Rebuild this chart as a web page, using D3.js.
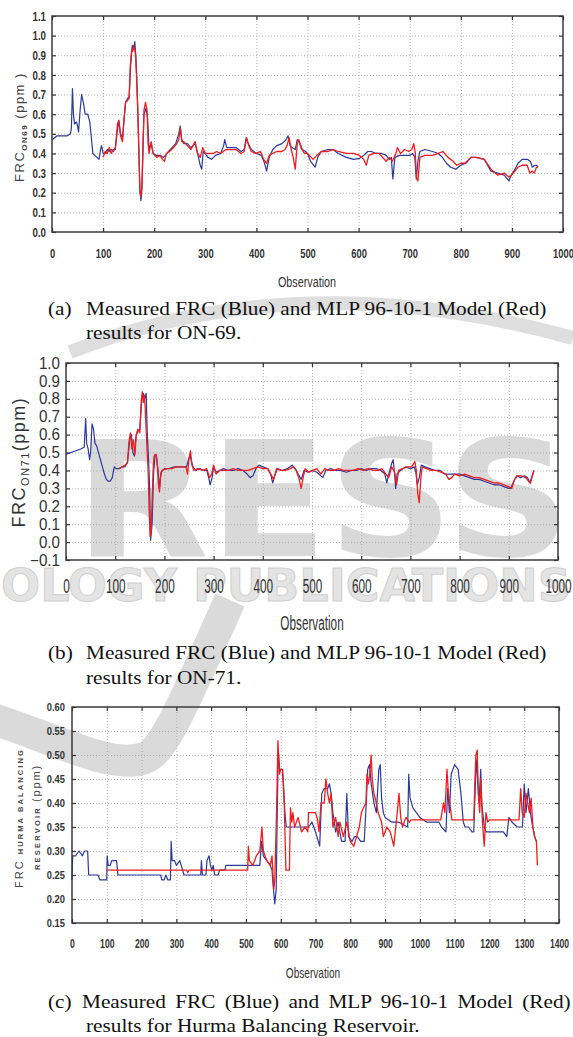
<!DOCTYPE html>
<html>
<head>
<meta charset="utf-8">
<script src="https://cdn.jsdelivr.net/npm/d3@7"></script>
<style>
body { margin: 0; background: #fff; }
svg { display: block; }
</style>
</head>
<body>
<div id="fig"></div>
<script>
// ---- data: [observation, FRC ppm] ----
var on69Measured = [[0,0.47],[5,0.48],[10,0.49],[20,0.49],[30,0.49],[36,0.50],[38,0.53],[40,0.73],[42,0.60],[44,0.55],[48,0.56],[50,0.54],[52,0.51],[55,0.62],[58,0.70],[62,0.65],[65,0.60],[70,0.60],[74,0.56],[77,0.48],[80,0.40],[84,0.39],[88,0.38],[92,0.37],[95,0.42],[97,0.44],[100,0.40],[104,0.40],[108,0.42],[112,0.41],[116,0.42],[120,0.41],[124,0.43],[128,0.52],[131,0.56],[134,0.50],[138,0.48],[141,0.57],[144,0.66],[148,0.68],[151,0.69],[154,0.85],[157,0.95],[160,0.93],[162,0.97],[164,0.90],[166,0.78],[168,0.62],[170,0.42],[172,0.22],[174,0.16],[176,0.22],[178,0.45],[180,0.60],[184,0.63],[187,0.58],[190,0.42],[194,0.45],[198,0.40],[205,0.39],[212,0.39],[218,0.38],[222,0.39],[228,0.41],[235,0.43],[242,0.45],[248,0.50],[251,0.54],[254,0.47],[258,0.45],[265,0.45],[272,0.43],[280,0.45],[285,0.40],[290,0.34],[293,0.32],[296,0.41],[300,0.40],[305,0.38],[312,0.37],[320,0.39],[330,0.40],[336,0.44],[338,0.47],[342,0.43],[350,0.43],[360,0.43],[370,0.41],[376,0.42],[380,0.48],[384,0.45],[390,0.42],[400,0.40],[410,0.39],[416,0.35],[420,0.31],[425,0.38],[432,0.42],[440,0.44],[450,0.45],[458,0.47],[462,0.49],[466,0.44],[470,0.43],[476,0.42],[480,0.47],[484,0.46],[490,0.42],[496,0.41],[500,0.40],[506,0.36],[515,0.33],[520,0.38],[527,0.41],[540,0.42],[550,0.42],[560,0.40],[576,0.38],[590,0.37],[602,0.375],[610,0.39],[618,0.41],[625,0.41],[634,0.40],[645,0.40],[654,0.39],[660,0.37],[664,0.38],[667,0.27],[671,0.38],[680,0.39],[690,0.39],[700,0.39],[706,0.40],[710,0.38],[713,0.27],[716,0.36],[720,0.41],[730,0.42],[745,0.41],[756,0.40],[764,0.38],[772,0.35],[780,0.33],[790,0.32],[800,0.34],[810,0.35],[820,0.38],[830,0.38],[846,0.37],[859,0.31],[872,0.30],[885,0.29],[894,0.26],[899,0.29],[906,0.32],[912,0.35],[920,0.37],[930,0.37],[936,0.36],[940,0.33],[944,0.34],[948,0.34],[951,0.33]];
var on69Model = [[100,0.38],[104,0.41],[108,0.40],[112,0.43],[116,0.40],[120,0.42],[124,0.42],[128,0.55],[131,0.57],[134,0.49],[138,0.46],[141,0.58],[144,0.66],[148,0.67],[151,0.68],[153,0.84],[156,0.93],[158,0.92],[160,0.95],[162,0.93],[164,0.88],[166,0.75],[168,0.60],[170,0.40],[172,0.20],[174,0.18],[176,0.23],[178,0.40],[180,0.62],[183,0.66],[186,0.62],[188,0.45],[190,0.40],[194,0.46],[198,0.40],[205,0.38],[212,0.39],[216,0.37],[220,0.36],[224,0.40],[230,0.41],[238,0.43],[244,0.45],[248,0.47],[251,0.53],[254,0.46],[258,0.46],[265,0.44],[272,0.42],[280,0.46],[285,0.40],[290,0.38],[295,0.43],[300,0.40],[308,0.40],[316,0.40],[322,0.41],[330,0.40],[340,0.42],[350,0.42],[360,0.42],[370,0.40],[376,0.41],[381,0.48],[385,0.44],[390,0.41],[398,0.40],[408,0.41],[414,0.37],[420,0.35],[425,0.39],[432,0.40],[440,0.41],[450,0.41],[456,0.42],[460,0.44],[464,0.48],[468,0.42],[472,0.38],[476,0.32],[480,0.45],[483,0.47],[487,0.43],[494,0.40],[500,0.40],[511,0.37],[518,0.39],[527,0.41],[540,0.41],[550,0.42],[560,0.41],[576,0.40],[590,0.40],[602,0.39],[610,0.37],[615,0.34],[620,0.39],[630,0.40],[640,0.40],[654,0.36],[660,0.38],[666,0.36],[673,0.40],[676,0.43],[682,0.40],[690,0.42],[698,0.41],[704,0.42],[708,0.45],[711,0.40],[713,0.28],[716,0.26],[720,0.38],[730,0.39],[745,0.39],[756,0.40],[765,0.41],[775,0.38],[785,0.36],[792,0.34],[800,0.35],[808,0.35],[820,0.38],[830,0.38],[846,0.37],[859,0.32],[872,0.29],[885,0.30],[894,0.28],[899,0.29],[906,0.31],[912,0.33],[920,0.34],[930,0.34],[935,0.30],[940,0.31],[944,0.30],[948,0.33],[951,0.33]];

var on71Measured = [[0,0.49],[10,0.50],[20,0.51],[30,0.52],[37,0.53],[40,0.69],[42,0.55],[45,0.52],[48,0.46],[50,0.50],[53,0.66],[56,0.63],[59,0.55],[62,0.54],[66,0.50],[70,0.46],[74,0.42],[78,0.38],[82,0.35],[86,0.34],[90,0.34],[94,0.36],[98,0.42],[102,0.41],[108,0.41],[114,0.42],[120,0.42],[125,0.45],[130,0.58],[133,0.60],[136,0.50],[139,0.48],[142,0.59],[146,0.62],[150,0.63],[154,0.80],[157,0.83],[160,0.80],[163,0.83],[165,0.62],[168,0.45],[170,0.30],[172,0.01],[175,0.10],[178,0.38],[181,0.49],[184,0.48],[187,0.40],[190,0.30],[193,0.39],[200,0.41],[210,0.41],[220,0.42],[230,0.42],[240,0.42],[245,0.42],[248,0.45],[252,0.49],[255,0.45],[258,0.42],[264,0.40],[272,0.41],[280,0.40],[286,0.40],[290,0.36],[293,0.32],[297,0.36],[300,0.42],[305,0.39],[312,0.40],[320,0.41],[330,0.40],[340,0.40],[350,0.41],[360,0.40],[368,0.38],[374,0.36],[380,0.37],[386,0.41],[392,0.43],[400,0.42],[410,0.41],[416,0.38],[420,0.33],[424,0.37],[430,0.41],[440,0.40],[450,0.41],[460,0.43],[466,0.41],[472,0.38],[478,0.35],[484,0.40],[492,0.39],[500,0.40],[510,0.39],[518,0.37],[522,0.36],[528,0.40],[538,0.41],[548,0.40],[558,0.40],[570,0.39],[580,0.40],[590,0.40],[600,0.41],[610,0.40],[620,0.41],[630,0.41],[640,0.40],[648,0.38],[652,0.33],[656,0.38],[662,0.44],[665,0.46],[668,0.38],[670,0.30],[673,0.38],[680,0.40],[690,0.42],[700,0.41],[708,0.42],[711,0.39],[714,0.32],[718,0.36],[722,0.43],[730,0.42],[740,0.41],[750,0.40],[760,0.40],[770,0.38],[780,0.38],[790,0.38],[800,0.38],[810,0.37],[820,0.36],[830,0.35],[840,0.35],[850,0.34],[860,0.33],[870,0.32],[880,0.32],[890,0.31],[900,0.30],[904,0.30],[910,0.34],[916,0.37],[924,0.36],[932,0.37],[938,0.36],[943,0.33],[946,0.36],[951,0.40]];
var on71Model = [[108,0.41],[114,0.42],[120,0.43],[125,0.44],[128,0.56],[131,0.61],[134,0.52],[137,0.57],[140,0.49],[143,0.60],[146,0.63],[150,0.61],[153,0.79],[155,0.84],[157,0.78],[159,0.82],[161,0.75],[163,0.62],[165,0.50],[167,0.40],[169,0.18],[171,0.03],[173,0.05],[175,0.22],[177,0.40],[179,0.48],[183,0.49],[186,0.42],[188,0.32],[190,0.28],[192,0.36],[195,0.40],[205,0.41],[215,0.41],[225,0.42],[235,0.42],[244,0.42],[247,0.38],[250,0.46],[253,0.51],[256,0.43],[260,0.40],[268,0.41],[278,0.40],[286,0.41],[292,0.36],[296,0.38],[300,0.43],[305,0.38],[312,0.40],[320,0.40],[330,0.40],[340,0.41],[350,0.40],[360,0.40],[370,0.40],[380,0.41],[390,0.42],[400,0.41],[410,0.41],[418,0.37],[422,0.35],[428,0.41],[436,0.40],[446,0.40],[456,0.41],[462,0.42],[468,0.40],[474,0.35],[478,0.30],[482,0.36],[486,0.41],[494,0.39],[502,0.40],[510,0.41],[518,0.38],[526,0.41],[534,0.40],[544,0.40],[554,0.41],[564,0.40],[574,0.40],[584,0.40],[594,0.41],[604,0.40],[614,0.41],[624,0.40],[634,0.40],[642,0.41],[650,0.38],[656,0.36],[662,0.42],[668,0.39],[672,0.32],[676,0.40],[684,0.41],[694,0.42],[702,0.42],[707,0.44],[709,0.45],[712,0.40],[715,0.27],[718,0.22],[721,0.35],[724,0.42],[732,0.41],[742,0.40],[752,0.40],[762,0.39],[772,0.38],[778,0.35],[784,0.36],[790,0.38],[800,0.37],[810,0.38],[820,0.37],[830,0.36],[840,0.36],[850,0.35],[860,0.34],[870,0.33],[880,0.33],[890,0.32],[900,0.31],[906,0.30],[912,0.35],[918,0.37],[926,0.37],[934,0.36],[940,0.34],[944,0.33],[948,0.37],[951,0.40]];

var hurmaMeasured = [[0,0.24],[2,0.29],[10,0.29],[20,0.30],[30,0.29],[36,0.30],[45,0.30],[48,0.25],[60,0.25],[75,0.25],[80,0.24],[100,0.24],[101,0.29],[104,0.27],[110,0.27],[114,0.28],[128,0.28],[132,0.25],[180,0.25],[255,0.25],[258,0.24],[265,0.24],[270,0.25],[275,0.24],[283,0.24],[285,0.32],[288,0.28],[295,0.28],[300,0.27],[310,0.28],[318,0.26],[322,0.25],[370,0.25],[372,0.28],[375,0.25],[385,0.25],[388,0.28],[394,0.29],[398,0.27],[402,0.26],[406,0.27],[410,0.25],[420,0.25],[424,0.26],[440,0.26],[442,0.27],[500,0.27],[520,0.27],[540,0.27],[545,0.32],[550,0.29],[560,0.28],[570,0.27],[575,0.26],[578,0.23],[583,0.19],[587,0.22],[590,0.38],[593,0.51],[597,0.47],[605,0.47],[608,0.44],[612,0.38],[616,0.35],[640,0.35],[660,0.35],[680,0.35],[690,0.36],[700,0.34],[712,0.31],[718,0.42],[725,0.43],[735,0.43],[740,0.44],[745,0.42],[750,0.38],[758,0.34],[765,0.36],[775,0.32],[785,0.32],[790,0.42],[795,0.33],[805,0.32],[812,0.33],[820,0.33],[830,0.32],[840,0.32],[846,0.40],[850,0.47],[855,0.48],[860,0.44],[868,0.40],[875,0.38],[882,0.47],[886,0.48],[890,0.41],[895,0.38],[900,0.37],[920,0.36],[940,0.36],[965,0.35],[968,0.46],[972,0.41],[980,0.39],[990,0.38],[1000,0.37],[1020,0.36],[1040,0.36],[1055,0.36],[1062,0.35],[1075,0.34],[1080,0.43],[1085,0.38],[1090,0.46],[1095,0.47],[1100,0.48],[1110,0.47],[1118,0.42],[1125,0.36],[1130,0.35],[1140,0.35],[1150,0.34],[1155,0.34],[1162,0.49],[1165,0.46],[1170,0.40],[1175,0.47],[1178,0.40],[1185,0.35],[1190,0.34],[1220,0.34],[1240,0.34],[1250,0.33],[1256,0.37],[1265,0.36],[1280,0.35],[1295,0.35],[1300,0.44],[1305,0.38],[1312,0.43],[1318,0.38],[1322,0.36],[1330,0.33],[1335,0.32]];
var hurmaModel = [[100,0.26],[330,0.26],[333,0.255],[336,0.26],[505,0.26],[507,0.31],[510,0.28],[520,0.27],[530,0.29],[540,0.30],[546,0.35],[550,0.30],[560,0.28],[570,0.27],[575,0.29],[580,0.22],[583,0.24],[588,0.38],[592,0.53],[596,0.46],[600,0.47],[605,0.47],[610,0.40],[615,0.26],[625,0.26],[628,0.39],[632,0.36],[635,0.38],[640,0.35],[650,0.37],[660,0.34],[670,0.35],[678,0.34],[680,0.38],[700,0.38],[706,0.365],[710,0.34],[716,0.40],[725,0.40],[730,0.45],[735,0.42],[740,0.40],[745,0.42],[750,0.35],[758,0.37],[765,0.33],[770,0.36],[780,0.33],[790,0.36],[800,0.32],[810,0.31],[818,0.33],[826,0.35],[832,0.38],[838,0.39],[845,0.40],[848,0.46],[852,0.44],[856,0.46],[860,0.50],[863,0.45],[868,0.42],[875,0.40],[880,0.38],[890,0.36],[895,0.33],[905,0.35],[915,0.34],[925,0.31],[935,0.38],[940,0.42],[945,0.37],[950,0.35],[960,0.37],[970,0.36],[975,0.365],[1060,0.365],[1068,0.40],[1072,0.38],[1078,0.47],[1082,0.42],[1086,0.40],[1092,0.365],[1155,0.365],[1158,0.44],[1161,0.50],[1165,0.51],[1168,0.42],[1172,0.38],[1175,0.45],[1180,0.36],[1185,0.31],[1190,0.38],[1195,0.36],[1200,0.365],[1285,0.365],[1290,0.43],[1294,0.38],[1300,0.37],[1305,0.42],[1310,0.40],[1315,0.38],[1320,0.41],[1325,0.35],[1330,0.33],[1335,0.32],[1338,0.27]];

// ---- tick values ----
var obsTicks1000 = d3.range(0, 1001, 100);
var obsTicks1400 = d3.range(0, 1401, 100);
var ticksOn69 = d3.range(0, 12).map(function (i) { return i / 10; });
var ticksOn71 = d3.range(-1, 11).map(function (i) { return i / 10; });
var ticksHurma = d3.range(3, 13).map(function (i) { return i * 0.05; });

var blue = "#2a3a9c", red = "#f21c1c";

var svg = d3.select("#fig").append("svg")
    .attr("width", 573)
    .attr("height", 1037);

// publisher watermark, faint, behind the plots
var wm = svg.append("g").attr("stroke", "none");
wm.append("path")
    .attr("d", "M 70 352 Q 300 262 573 338")
    .attr("fill", "none").attr("stroke", "#dedede").attr("stroke-width", 14);
wm.append("text")
    .attr("x", 75).attr("y", 556)
    .attr("textLength", 496).attr("lengthAdjust", "spacingAndGlyphs")
    .attr("fill", "#d9d9d9")
    .style("font", "bold 160px 'DejaVu Sans'")
    .text("RESS");
wm.append("text")
    .attr("x", 1).attr("y", 601)
    .attr("textLength", 570).attr("lengthAdjust", "spacingAndGlyphs")
    .attr("fill", "#e4e4e4").attr("stroke", "#d0d0d0").attr("stroke-width", 1)
    .style("font", "bold 44px 'DejaVu Sans'")
    .text("OLOGY PUBLICATIONS");
wm.append("path")
    .attr("d", "M -10 718 C 60 740 110 770 145 758 C 165 750 185 700 230 600")
    .attr("fill", "none").attr("stroke", "#dadada").attr("stroke-width", 32)
    .attr("stroke-linecap", "butt");

function drawPanel(p) {
    var x = d3.scaleLinear().domain(p.xDomain).range([p.left, p.right]);
    var y = d3.scaleLinear().domain(p.yDomain).range([p.bottom, p.top]);
    var w = p.right - p.left, h = p.bottom - p.top;
    var g = svg.append("g");

    // dotted grid
    g.append("g")
        .attr("transform", "translate(0," + p.bottom + ")")
        .call(d3.axisBottom(x).tickValues(p.xTicks.slice(1, -1)).tickSize(-h).tickFormat(""))
        .call(function (s) { s.select(".domain").remove(); })
        .selectAll("line").attr("stroke", "#b0b0b0").attr("stroke-dasharray", "1,2");
    g.append("g")
        .attr("transform", "translate(" + p.left + ",0)")
        .call(d3.axisLeft(y).tickValues(p.yTicks.slice(1, -1)).tickSize(-w).tickFormat(""))
        .call(function (s) { s.select(".domain").remove(); })
        .selectAll("line").attr("stroke", "#b0b0b0").attr("stroke-dasharray", "1,2");

    // inward tick marks on all four sides
    var inward = [
        [d3.axisBottom(x).tickValues(p.xTicks), "translate(0," + p.bottom + ")"],
        [d3.axisTop(x).tickValues(p.xTicks), "translate(0," + p.top + ")"],
        [d3.axisLeft(y).tickValues(p.yTicks), "translate(" + p.left + ",0)"],
        [d3.axisRight(y).tickValues(p.yTicks), "translate(" + p.right + ",0)"]
    ];
    inward.forEach(function (a) {
        g.append("g").attr("transform", a[1])
            .call(a[0].tickSize(-4).tickFormat(""))
            .call(function (s) { s.select(".domain").remove(); })
            .selectAll("line").attr("stroke", "#333").attr("stroke-width", 1.2);
    });

    var line = d3.line()
        .x(function (d) { return x(d[0]); })
        .y(function (d) { return y(d[1]); });

    g.append("path").datum(p.measured)
        .attr("d", line).attr("fill", "none")
        .attr("stroke", blue).attr("stroke-width", 1.2).attr("stroke-linejoin", "round");
    g.append("path").datum(p.model)
        .attr("d", line).attr("fill", "none")
        .attr("stroke", red).attr("stroke-width", 1.3).attr("stroke-linejoin", "round");

    g.append("rect")
        .attr("x", p.left).attr("y", p.top).attr("width", w).attr("height", h)
        .attr("fill", "none").attr("stroke", "#3a3a3a").attr("stroke-width", 1.5);

    // tick labels
    var yl = g.append("g")
        .attr("transform", "translate(" + p.left + ",0)")
        .call(d3.axisLeft(y).tickValues(p.yTicks).tickSize(0).tickFormat(d3.format(p.yFormat)))
        .call(function (s) { s.select(".domain").remove(); });
    yl.selectAll("text")
        .attr("x", -p.yPad / p.ySx)
        .attr("transform", "scale(" + p.ySx + ",1)")
        .style("font", p.yFont).attr("fill", "#333");

    var xl = g.append("g")
        .attr("transform", "translate(0," + p.bottom + ")")
        .call(d3.axisBottom(x).tickValues(p.xTicks).tickSize(0).tickFormat(d3.format("d")))
        .call(function (s) { s.select(".domain").remove(); });
    xl.selectAll("text")
        .attr("y", p.xPad).attr("dy", 0)
        .attr("transform", "scale(" + p.xSx + ",1)")
        .style("font", p.xFont).attr("fill", "#333");

    g.append("text")
        .attr("transform", "translate(" + p.titleX + "," + p.titleY + ") scale(" + p.xSx + ",1)")
        .attr("text-anchor", "middle")
        .style("font", p.titleFont).attr("fill", "#333")
        .text("Observation");
}

drawPanel({
    left: 52, right: 563, top: 16, bottom: 232,
    xDomain: [0, 1000], yDomain: [0, 1.1],
    xTicks: obsTicks1000, yTicks: ticksOn69, yFormat: ".1f",
    measured: on69Measured, model: on69Model,
    yFont: "bold 13px 'Liberation Sans'", ySx: 0.75, yPad: 6,
    xFont: "bold 13px 'Liberation Sans'", xSx: 0.72, xPad: 26,
    titleFont: "15px 'Liberation Sans'", titleX: 307, titleY: 287
});
drawPanel({
    left: 66, right: 558, top: 363, bottom: 560,
    xDomain: [0, 1000], yDomain: [-0.1, 1.0],
    xTicks: obsTicks1000, yTicks: ticksOn71, yFormat: ".1f",
    measured: on71Measured, model: on71Model,
    yFont: "16px 'Liberation Sans'", ySx: 0.95, yPad: 6,
    xFont: "21px 'Liberation Sans'", xSx: 0.56, xPad: 33,
    titleFont: "21px 'Liberation Sans'", titleX: 312, titleY: 630
});
drawPanel({
    left: 72, right: 559, top: 707, bottom: 923,
    xDomain: [0, 1400], yDomain: [0.15, 0.60],
    xTicks: obsTicks1400, yTicks: ticksHurma, yFormat: ".2f",
    measured: hurmaMeasured, model: hurmaModel,
    yFont: "bold 11px 'Liberation Sans'", ySx: 0.85, yPad: 7,
    xFont: "bold 12px 'Liberation Sans'", xSx: 0.72, xPad: 25,
    titleFont: "14px 'Liberation Sans'", titleX: 313, titleY: 978
});

// rotated y-axis titles
var ta = svg.append("text")
    .attr("transform", "translate(24,127) rotate(-90)")
    .attr("text-anchor", "middle").attr("fill", "#444")
    .style("font", "13px 'Liberation Sans'").style("letter-spacing", "1.5px");
ta.append("tspan").text("FRC");
ta.append("tspan").attr("dy", 3).style("font", "bold 8px 'Liberation Sans'").text("ON69");
ta.append("tspan").attr("dy", -3).text(" (ppm )");

var tb = svg.append("text")
    .attr("transform", "translate(25,462) rotate(-90)")
    .attr("text-anchor", "middle").attr("fill", "#333")
    .style("font", "18px 'Liberation Sans'").style("letter-spacing", "1.5px");
tb.append("tspan").text("FRC");
tb.append("tspan").attr("dy", 4).style("font", "11px 'Liberation Sans'").text("ON71");
tb.append("tspan").attr("dy", -4).text("(ppm)");

var tc1 = svg.append("text")
    .attr("transform", "translate(23,888) rotate(-90)")
    .attr("fill", "#444")
    .style("font", "11px 'Liberation Sans'").style("letter-spacing", "2px");
tc1.append("tspan").text("FRC  ");
tc1.append("tspan").style("font", "bold 7.5px 'Liberation Sans'").style("letter-spacing", "2.1px").text("HURMA BALANCING");
var tc2 = svg.append("text")
    .attr("transform", "translate(40,870) rotate(-90)")
    .attr("fill", "#444")
    .style("font", "bold 7.5px 'Liberation Sans'").style("letter-spacing", "2.2px");
tc2.append("tspan").text("RESERVOIR ");
tc2.append("tspan").style("font", "11px 'Liberation Sans'").style("letter-spacing", "1.8px").text("(ppm)");

// captions
var captions = [
    { tag: "(a)", y1: 315, y2: 339, line2: "results for ON-69.", ws: 0 },
    { tag: "(b)", y1: 659, y2: 684, line2: "results for ON-71.", ws: 0 },
    { tag: "(c)", y1: 1008, y2: 1032, line2: "results for Hurma Balancing Reservoir.", ws: 3.6 }
];
captions.forEach(function (c) {
    var t = svg.append("g").style("font", "19px 'Liberation Serif'").attr("fill", "#111");
    t.append("text").attr("transform", "translate(48," + c.y1 + ") scale(1.12,1)").text(c.tag);
    t.append("text").attr("transform", "translate(" + (c.ws ? 82 : 86) + "," + c.y1 + ") scale(1.12,1)")
        .style("word-spacing", c.ws + "px")
        .text("Measured FRC (Blue) and MLP 96-10-1 Model (Red)");
    t.append("text").attr("transform", "translate(86," + c.y2 + ") scale(1.12,1)").text(c.line2);
});
</script>
</body>
</html>
